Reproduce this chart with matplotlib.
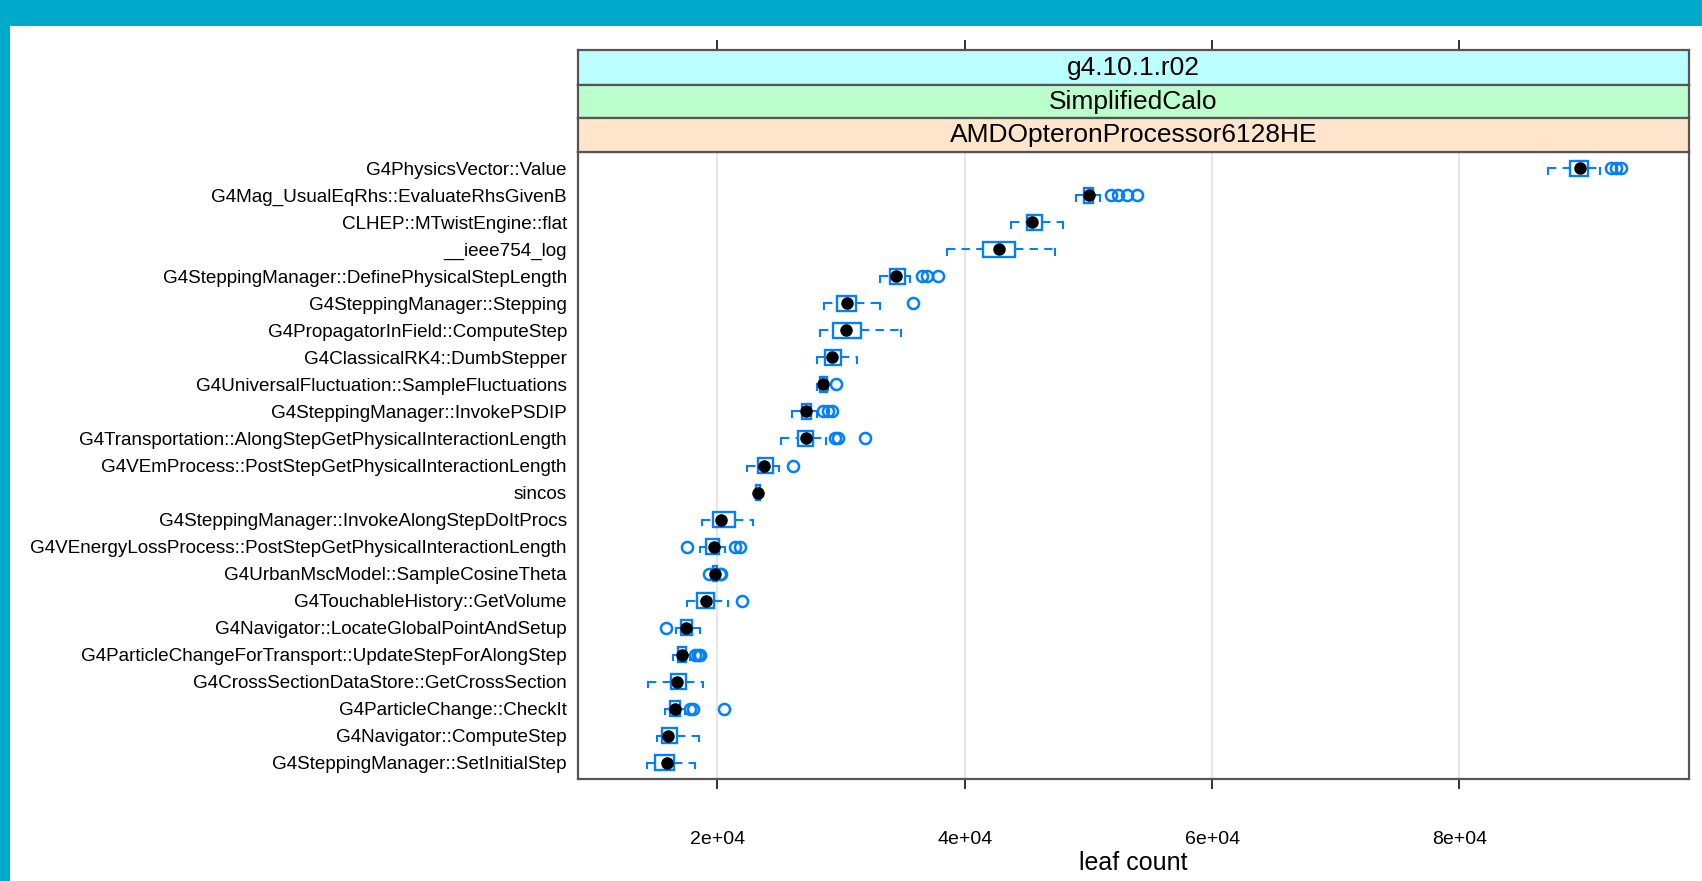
import matplotlib
matplotlib.use("Agg")
import matplotlib.pyplot as plt
from matplotlib.patches import Rectangle

plt.rcParams['font.family'] = ['Liberation Sans', 'DejaVu Sans']

# funcoes, de cima para baixo
funcoes = [
    "G4PhysicsVector::Value",
    "G4Mag_UsualEqRhs::EvaluateRhsGivenB",
    "CLHEP::MTwistEngine::flat",
    "__ieee754_log",
    "G4SteppingManager::DefinePhysicalStepLength",
    "G4SteppingManager::Stepping",
    "G4PropagatorInField::ComputeStep",
    "G4ClassicalRK4::DumbStepper",
    "G4UniversalFluctuation::SampleFluctuations",
    "G4SteppingManager::InvokePSDIP",
    "G4Transportation::AlongStepGetPhysicalInteractionLength",
    "G4VEmProcess::PostStepGetPhysicalInteractionLength",
    "sincos",
    "G4SteppingManager::InvokeAlongStepDoItProcs",
    "G4VEnergyLossProcess::PostStepGetPhysicalInteractionLength",
    "G4UrbanMscModel::SampleCosineTheta",
    "G4TouchableHistory::GetVolume",
    "G4Navigator::LocateGlobalPointAndSetup",
    "G4ParticleChangeForTransport::UpdateStepForAlongStep",
    "G4CrossSectionDataStore::GetCrossSection",
    "G4ParticleChange::CheckIt",
    "G4Navigator::ComputeStep",
    "G4SteppingManager::SetInitialStep",
]

bigode_min = [87200, 48970, 43740, 38540, 33140, 28610, 28290, 28020, 28020, 26000,
              25140, 22350, 23000, 18720, 18590, 19450, 17510, 16640, 16380, 14400,
              15750, 15080, 14270]
quartil1 = [88950, 49670, 45010, 41500, 33950, 29640, 29320, 28700, 28290, 26810,
            26540, 23240, 23150, 19660, 19070, 19650, 18370, 17050, 16830, 16220,
            16160, 15540, 14950]
mediana = [89750, 50050, 45410, 42770, 34410, 30500, 30370, 29240, 28560, 27130,
           27120, 23800, 23300, 20280, 19740, 19800, 19070, 17450, 17100, 16750,
           16560, 15970, 15940]
quartil3 = [90400, 50390, 46270, 44060, 35170, 31200, 31610, 29970, 28830, 27540,
            27720, 24450, 23420, 21420, 20150, 19950, 19720, 17910, 17450, 17450,
            16970, 16750, 16480]
bigode_max = [91400, 50940, 47970, 47300, 35570, 33140, 34840, 31310, 28960, 28020,
              28780, 24970, 23550, 22900, 20610, 20100, 20870, 18590, 17780, 18850,
              17370, 18530, 18180]
outliers = [
    [92300, 92700, 93100],
    [51800, 52420, 53100, 53900],
    [],
    [],
    [36520, 36920, 37860],
    [35840],
    [],
    [],
    [29580],
    [28560, 28960, 29240],
    [29500, 29750, 31930],
    [26130],
    [],
    [],
    [17510, 21420, 21820],
    [19300, 20200, 20300],
    [21960],
    [15840],
    [18180, 18450, 18590],
    [],
    [17780, 17990, 20530],
    [],
    [],
]

ticks_x = [20000, 40000, 60000, 80000]
rotulos_x = ["2e+04", "4e+04", "6e+04", "8e+04"]
faixas = ["g4.10.1.r02", "SimplifiedCalo", "AMDOpteronProcessor6128HE"]
cores_faixas = ["#BBFFFF", "#BBFFCC", "#FFE5CC"]

W, H = 1702, 881
azul = "#0080FF"
borda = "#555555"

fig = plt.figure(figsize=(W / 100, H / 100), dpi=100, facecolor="#01A9CB")
fig.add_artist(Rectangle((10 / W, 0), 1, (H - 26) / H, transform=fig.transFigure,
                         facecolor="white", edgecolor="none", zorder=-10))

esq, dir_, topo, base = 578, 1689, 152, 779
ax = fig.add_axes([esq / W, (H - base) / H, (dir_ - esq) / W, (base - topo) / H])

n = len(funcoes)
for i in range(n):
    ax.add_patch(Rectangle((quartil1[i], i - 0.275), quartil3[i] - quartil1[i], 0.55,
                           fill=False, edgecolor=azul, lw=1.7, zorder=3))
    ax.plot([bigode_min[i], quartil1[i]], [i, i], color=azul, lw=1.5, dashes=(4, 3), zorder=2)
    ax.plot([quartil3[i], bigode_max[i]], [i, i], color=azul, lw=1.5, dashes=(4, 3), zorder=2)
    ax.plot([bigode_min[i], bigode_min[i]], [i, i + 0.2], color=azul, lw=1.5, zorder=2)
    ax.plot([bigode_max[i], bigode_max[i]], [i, i + 0.2], color=azul, lw=1.5, zorder=2)
    if outliers[i]:
        ax.plot(outliers[i], [i] * len(outliers[i]), 'o', mfc='none', mec=azul,
                ms=8, mew=1.8, zorder=3)
    ax.plot(mediana[i], i, 'o', color='black', ms=8, zorder=4)

ax.set_xlim(8720, 98570)
ax.set_ylim(n - 1 + 0.6, -0.6)
ax.set_yticks(range(n))
ax.set_yticklabels(funcoes, fontsize=13.6)
ax.tick_params(axis='y', length=0, pad=8)
ax.set_xticks(ticks_x)
ax.set_xticklabels(rotulos_x, fontsize=14)
ax.tick_params(axis='x', direction='out', length=7.5, width=1.3, color='#222222', pad=30)
ax.grid(axis='x', color='#E6E6E6', lw=1.5, zorder=0)
ax.set_axisbelow(True)
for s in ax.spines.values():
    s.set_color(borda)
    s.set_linewidth(1.6)

# faixas do lattice
limites = [50, 85, 118, 152]
for k, nome in enumerate(faixas):
    y0, y1 = limites[k], limites[k + 1]
    sax = fig.add_axes([esq / W, (H - y1) / H, (dir_ - esq) / W, (y1 - y0) / H],
                       facecolor=cores_faixas[k])
    sax.set_xlim(ax.get_xlim())
    sax.set_yticks([])
    if k == 0:
        sax.set_xticks(ticks_x)
        sax.xaxis.tick_top()
        sax.tick_params(axis='x', direction='out', length=7.5, width=1.3,
                        color='#222222', labeltop=False)
    else:
        sax.set_xticks([])
    for s in sax.spines.values():
        s.set_color(borda)
        s.set_linewidth(1.6)
    sax.text(0.5, 0.5, nome, transform=sax.transAxes, ha='center', va='center',
             fontsize=19)

fig.text((esq + dir_) / 2 / W, (H - 863) / H, "leaf count", ha='center', va='center',
         fontsize=18)

plt.savefig("out.png", dpi=100, facecolor=fig.get_facecolor())
